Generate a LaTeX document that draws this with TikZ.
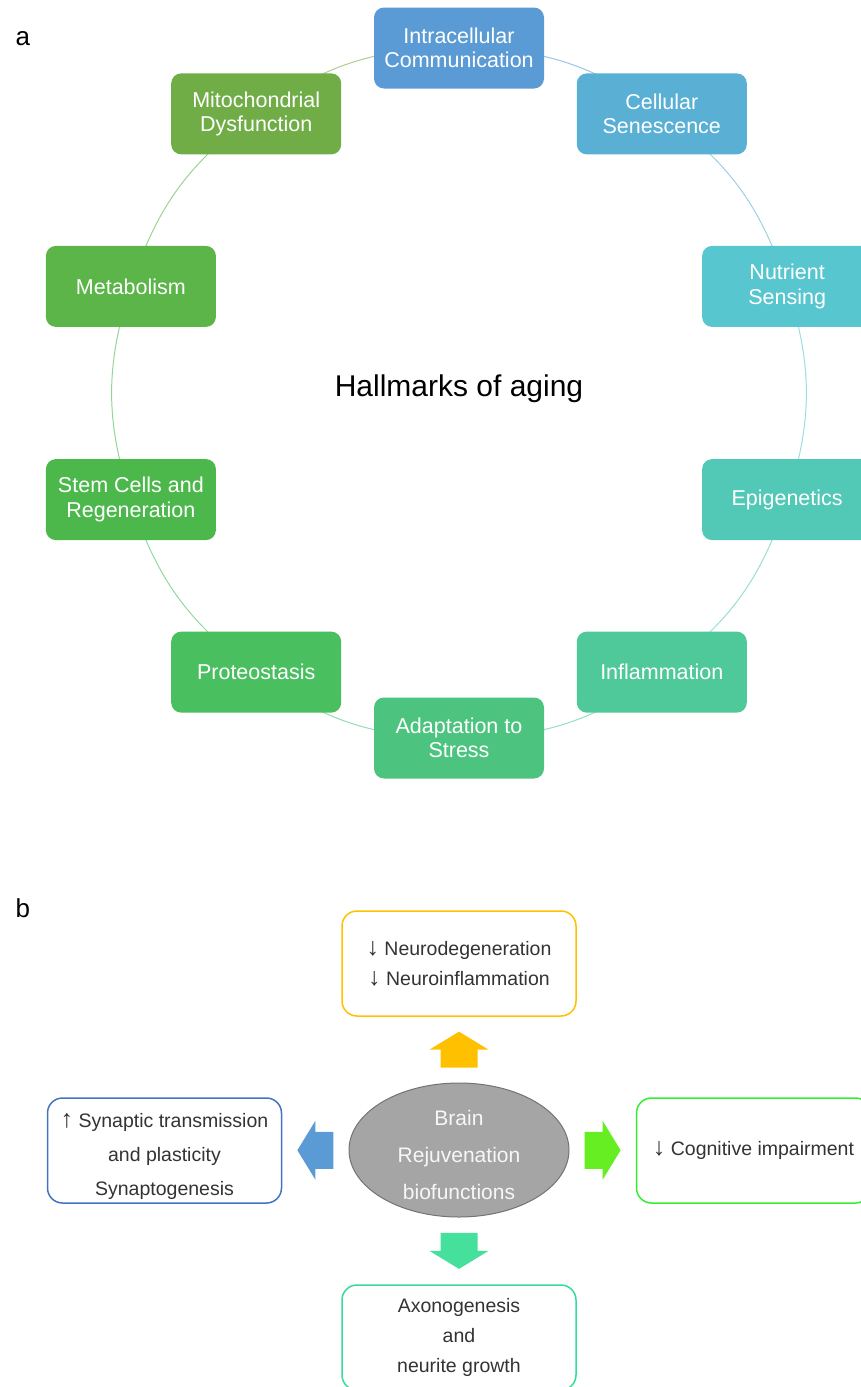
\documentclass[tikz,border=0pt]{standalone}
\usepackage{fontspec}
\setmainfont{Liberation Sans}
\usetikzlibrary{positioning,calc,backgrounds,shapes.geometric}

\definecolor{cintra}{HTML}{5B9BD5}
\definecolor{csenes}{HTML}{5AB0D4}
\definecolor{cnutri}{HTML}{57C6CE}
\definecolor{cepig}{HTML}{52C8B6}
\definecolor{cinflam}{HTML}{4FC89A}
\definecolor{cstress}{HTML}{4CC47F}
\definecolor{cproteo}{HTML}{4ABF60}
\definecolor{cstem}{HTML}{4CB84C}
\definecolor{cmetab}{HTML}{5BB548}
\definecolor{cmito}{HTML}{70AD47}
\definecolor{corange}{HTML}{FFC000}
\definecolor{cblue}{HTML}{4472C4}
\definecolor{carrblue}{HTML}{5B9BD5}
\definecolor{cbright}{HTML}{33EE33}
\definecolor{carrgreen}{HTML}{66EE22}
\definecolor{cmint}{HTML}{33DD99}
\definecolor{carrmint}{HTML}{44E09C}
\definecolor{chub}{HTML}{A5A5A5}
\definecolor{textgrey}{HTML}{333333}

\newcommand\arrdown{{\fontsize{25}{25}\selectfont ↓}}
\newcommand\arrup{{\fontsize{25}{25}\selectfont ↑}}

\tikzset{
  hallmark/.style={rounded corners=10pt, minimum width=170pt, minimum height=81pt,
    inner sep=0pt, text=white, align=center, font=\fontsize{21.5}{24.5}\selectfont},
  ring/.style={line width=1pt},
  effect/.style={draw, line width=1.5pt, rounded corners=15pt, minimum width=234pt,
    minimum height=105pt, inner sep=0pt, align=center, text=textgrey},
  blockarrow/.pic={
    \fill (-18,-18.5) -- (0,-18.5) -- (0,-29.5) -- (18,0) -- (0,29.5) -- (0,18.5) -- (-18,18.5) -- cycle;
  }
}

\begin{document}
\begin{tikzpicture}[x=1pt,y=1pt]
\useasboundingbox (0,0) rectangle (861,-1387);

% panel a
\node[anchor=base west, font=\fontsize{26}{26}\selectfont] (lbla) at (12,-45) {a};
\coordinate (ring) at (459,-393);
\node[font=\fontsize{30}{30}\selectfont] (title) at (459,-389) {Hallmarks of aging};

\foreach \name/\ang/\col/\txt in {
    intra/90/cintra/{Intracellular\\Communication},
    senes/54/csenes/{Cellular\\Senescence},
    nutri/18/cnutri/{Nutrient\\Sensing},
    epig/-18/cepig/{Epigenetics},
    inflam/-54/cinflam/{Inflammation},
    stress/-90/cstress/{Adaptation to\\Stress},
    proteo/-126/cproteo/{Proteostasis},
    stem/-162/cstem/{Stem Cells and\\Regeneration},
    metab/162/cmetab/{Metabolism},
    mito/126/cmito/{Mitochondrial\\Dysfunction}}
  \node[hallmark, fill=\col] (\name) at ($(ring)+(\ang:345)$) {\txt};

\begin{scope}[on background layer]
  \foreach \a/\b/\col in {mito/intra/cmito, intra/senes/cintra, senes/nutri/csenes,
      nutri/epig/cnutri, epig/inflam/cepig, inflam/stress/cinflam, stress/proteo/cstress,
      proteo/stem/cproteo, stem/metab/cstem, metab/mito/cmetab}
    \draw[ring, \col!60] (\a.center) to[bend left=18] (\b.center);
\end{scope}

% panel b
\node[anchor=base west, font=\fontsize{26}{26}\selectfont] (lblb) at (12,-917) {b};

\node[ellipse, fill=chub, draw=gray!90!black, line width=1pt, minimum width=220pt,
  minimum height=134pt, inner sep=0pt, text=white!94!gray,
  font=\fontsize{21}{37}\selectfont] (brain) at (459,-1150)
  {\raisebox{-10pt}[0pt][0pt]{\begin{tabular}{@{}c@{}}Brain\\Rejuvenation\\biofunctions\end{tabular}}};

\node[effect, draw=corange, font=\fontsize{19.5}{30}\selectfont] (neuro) at (459,-963.5)
  {\arrdown{} Neurodegeneration\\\arrdown{} Neuroinflammation};
\node[effect, draw=cblue, font=\fontsize{19.5}{34}\selectfont] (synap) at (164.5,-1150.5)
  {\raisebox{-9.5pt}[0pt][0pt]{\begin{tabular}{@{}c@{}}\arrup{} Synaptic transmission\\and plasticity\\Synaptogenesis\end{tabular}}};
\node[effect, draw=cbright, font=\fontsize{19.5}{30}\selectfont] (cogn) at (753.5,-1150.5)
  {\arrdown{} Cognitive impairment};
\node[effect, draw=cmint, font=\fontsize{19.5}{30}\selectfont] (axon) at (459,-1337.5)
  {Axonogenesis\\and\\neurite growth};

\pic[fill=corange, rotate=90] (upar) at ($(brain.north)!0.5!(neuro.south)$) {blockarrow};
\pic[fill=carrblue, rotate=180] (leftar) at ($(brain.west)!0.5!(synap.east)$) {blockarrow};
\pic[fill=carrgreen] (rightar) at ($(brain.east)!0.5!(cogn.west)$) {blockarrow};
\pic[fill=carrmint, rotate=-90] (downar) at ($(brain.south)!0.5!(axon.north)$) {blockarrow};
\end{tikzpicture}
\end{document}
